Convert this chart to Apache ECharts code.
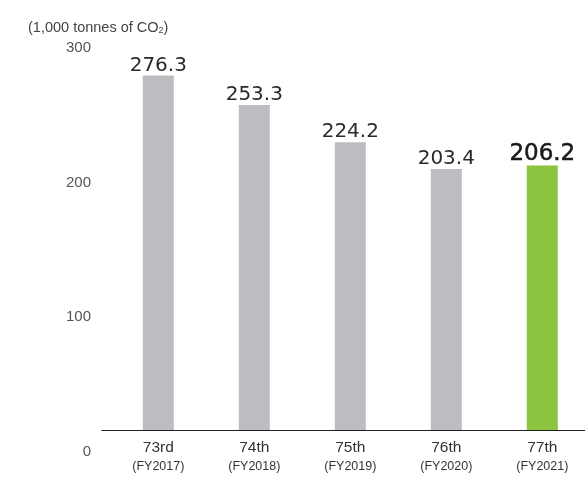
<!DOCTYPE html>
<html>
<head>
<meta charset="utf-8">
<style>
  html, body { margin: 0; padding: 0; background: #fff; }
  #chart { width: 585px; height: 479px; }
</style>
<script src="https://cdn.jsdelivr.net/npm/echarts@6/dist/echarts.min.js"></script>
</head>
<body>
<div id="chart"></div>
<script>
// CO2 emissions by fiscal period (1,000 tonnes)
const periods = ['73rd', '74th', '75th', '76th', '77th'];
const fiscalYears = ['FY2017', 'FY2018', 'FY2019', 'FY2020', 'FY2021'];
const emissions = [276.3, 253.3, 224.2, 203.4, 206.2];
const yTicks = [0, 100, 200, 300];

const GRAY = '#bcbdc0';
const GREEN = '#8cc43f';
const latest = emissions.length - 1;

const chart = echarts.init(document.getElementById('chart'), null, { renderer: 'canvas' });

const barData = emissions.map((v, i) => {
  const item = { value: v, itemStyle: { color: i === latest ? GREEN : GRAY } };
  if (i === latest) {
    item.label = { fontSize: 23, color: '#1a1a1a', textBorderColor: '#1a1a1a', textBorderWidth: 0.5 };
  }
  return item;
});

chart.setOption({
  animation: false,
  title: {
    text: '{a|(1,000 tonnes of CO}{s|2}{a|)}',
    left: 23,
    top: 15,
    textStyle: {
      fontWeight: 'normal',
      rich: {
        a: { fontFamily: 'Liberation Sans', fontSize: 14.5, fontWeight: 'normal', color: '#444' },
        s: { fontFamily: 'Liberation Sans', fontSize: 9, fontWeight: 'normal', color: '#444', padding: [6, 0, 0, 0] }
      }
    }
  },
  grid: [
    // bars
    { left: 110.3, width: 480, top: 45, bottom: 49, outerBoundsMode: 'none' },
    // baseline
    { left: 102, right: 0, top: 45, bottom: 49 },
    // value labels on the left
    { left: 95, right: 0, top: 48, bottom: 27 }
  ],
  xAxis: [
    {
      gridIndex: 0,
      type: 'category',
      data: periods,
      axisLine: { show: false },
      axisTick: { show: false },
      axisLabel: {
        margin: 8,
        formatter: (v, i) => '{p|' + v + '}\n{f|(' + fiscalYears[i] + ')}',
        rich: {
          p: { fontFamily: 'Liberation Sans', fontSize: 15.5, color: '#333', lineHeight: 20 },
          f: { fontFamily: 'Liberation Sans', fontSize: 12.5, color: '#333', lineHeight: 18 }
        }
      }
    },
    {
      gridIndex: 1,
      type: 'value',
      axisLine: { show: true, onZero: false, lineStyle: { color: '#222', width: 1.2 } },
      axisTick: { show: false },
      axisLabel: { show: false },
      splitLine: { show: false }
    },
    {
      gridIndex: 2,
      type: 'value',
      show: false
    }
  ],
  yAxis: [
    {
      gridIndex: 0,
      type: 'value',
      min: 0,
      max: 300,
      show: false,
      splitLine: { show: false }
    },
    {
      gridIndex: 1,
      type: 'value',
      show: false
    },
    {
      gridIndex: 2,
      type: 'value',
      min: yTicks[0],
      max: yTicks[yTicks.length - 1],
      interval: yTicks[1] - yTicks[0],
      axisLine: { show: false },
      axisTick: { show: false },
      splitLine: { show: false },
      axisLabel: {
        margin: 4,
        fontFamily: 'Liberation Sans',
        fontSize: 15,
        color: '#555'
      }
    }
  ],
  series: [
    {
      type: 'bar',
      xAxisIndex: 0,
      yAxisIndex: 0,
      barWidth: 31,
      data: barData,
      label: {
        show: true,
        position: 'top',
        distance: 0,
        fontFamily: 'DejaVu Sans',
        fontSize: 20,
        color: '#2a2a2a',
        formatter: p => p.value.toFixed(1)
      }
    }
  ]
});
</script>
</body>
</html>
